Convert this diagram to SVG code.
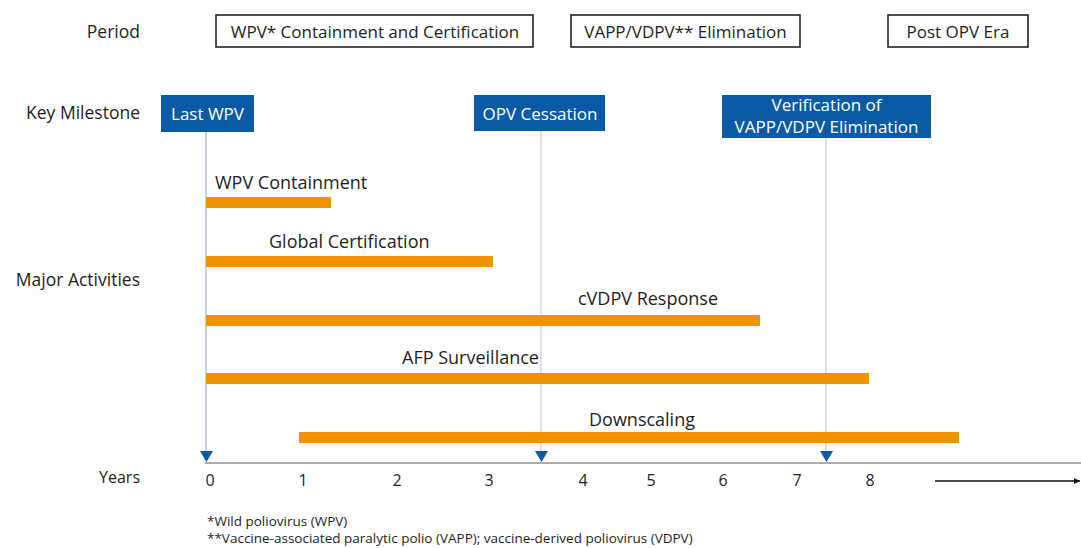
<svg xmlns="http://www.w3.org/2000/svg" width="1081" height="548" viewBox="0 0 1081 548">
<style>
text{font-family:"Open Sans","Noto Sans","DejaVu Sans",sans-serif;fill:#1e1e1e}
.lbl{font-size:17.5px;text-anchor:end}
.per{fill:#fff;stroke:#222;stroke-width:1.6}
.pt{font-size:17px;text-anchor:middle}
.ms{fill:#0b5aa5}
.mt{font-size:17px;text-anchor:middle;fill:#fff}
.bar{fill:#f39200}
.at{font-size:18px}
.yr{font-size:16px;text-anchor:middle}
.fn{font-size:13.5px}
.vl{stroke:#cfcfcf;stroke-width:1.3}
.tri{fill:#0b5aa5}
</style>
<defs>
<marker id="ah" viewBox="0 0 10 10" refX="10" refY="5" markerWidth="6" markerHeight="6" orient="auto" markerUnits="userSpaceOnUse"><path d="M0,0 L10,5 L0,10 z" fill="#111"/></marker>
</defs>
<rect width="1081" height="548" fill="#fff"/>
<g id="row-labels">
<text class="lbl" x="140" y="38">Period</text>
<text class="lbl" x="140" y="119">Key Milestone</text>
<text class="lbl" x="140" y="286">Major Activities</text>
<text class="lbl" x="140" y="483" style="font-size:16px">Years</text>
</g>
<g id="connectors">
<line class="vl" x1="206" y1="132" x2="206" y2="455" style="stroke:#aab3c8"/>
<line class="vl" x1="541" y1="131" x2="541" y2="455"/>
<line class="vl" x1="826" y1="138" x2="826" y2="455"/>
<line x1="205" y1="463" x2="1081" y2="463" stroke="#aaa" stroke-width="2"/>
<line x1="935" y1="481" x2="1080" y2="481" stroke="#111" stroke-width="1.5" marker-end="url(#ah)"/>
<polygon class="tri" points="200,451 213,451 206.5,462"/>
<polygon class="tri" points="535,451 548,451 541.5,462"/>
<polygon class="tri" points="820,451 833,451 826.5,462"/>
</g>
<g id="period-wpv"><rect class="per" x="216" y="15" width="317" height="32"/><text class="pt" x="375" y="37.5">WPV* Containment and Certification</text></g>
<g id="period-vapp"><rect class="per" x="571" y="15" width="229" height="32"/><text class="pt" x="685.5" y="37.5">VAPP/VDPV** Elimination</text></g>
<g id="period-post"><rect class="per" x="888" y="15" width="140" height="32"/><text class="pt" x="958" y="37.5">Post OPV Era</text></g>
<g id="ms-last-wpv"><rect class="ms" x="161" y="95" width="93" height="37"/><text class="mt" x="207.5" y="119.5">Last WPV</text></g>
<g id="ms-opv"><rect class="ms" x="474" y="95" width="131" height="36"/><text class="mt" x="540" y="119.5">OPV Cessation</text></g>
<g id="ms-verif"><rect class="ms" x="722" y="95" width="209" height="43"/><text class="mt" x="826.5" y="111">Verification of</text><text class="mt" x="826.5" y="133">VAPP/VDPV Elimination</text></g>
<g id="act-wpv"><rect class="bar" x="206" y="197" width="125" height="11"/><text class="at" x="215" y="189">WPV Containment</text></g>
<g id="act-cert"><rect class="bar" x="206" y="256" width="287" height="11"/><text class="at" x="269" y="248">Global Certification</text></g>
<g id="act-cvdpv"><rect class="bar" x="206" y="315" width="554" height="11"/><text class="at" x="578" y="305">cVDPV Response</text></g>
<g id="act-afp"><rect class="bar" x="206" y="373" width="663" height="11"/><text class="at" x="402" y="364">AFP Surveillance</text></g>
<g id="act-down"><rect class="bar" x="299" y="432" width="660" height="11"/><text class="at" x="589" y="426">Downscaling</text></g>
<g id="years">
<text class="yr" x="210" y="486">0</text>
<text class="yr" x="303" y="486">1</text>
<text class="yr" x="397" y="486">2</text>
<text class="yr" x="489" y="486">3</text>
<text class="yr" x="583" y="486">4</text>
<text class="yr" x="651" y="486">5</text>
<text class="yr" x="723" y="486">6</text>
<text class="yr" x="797" y="486">7</text>
<text class="yr" x="870" y="486">8</text>
</g>
<g id="footnotes">
<text class="fn" x="207" y="526">*Wild poliovirus (WPV)</text>
<text class="fn" x="207" y="543">**Vaccine-associated paralytic polio (VAPP); vaccine-derived poliovirus (VDPV)</text>
</g>
</svg>
